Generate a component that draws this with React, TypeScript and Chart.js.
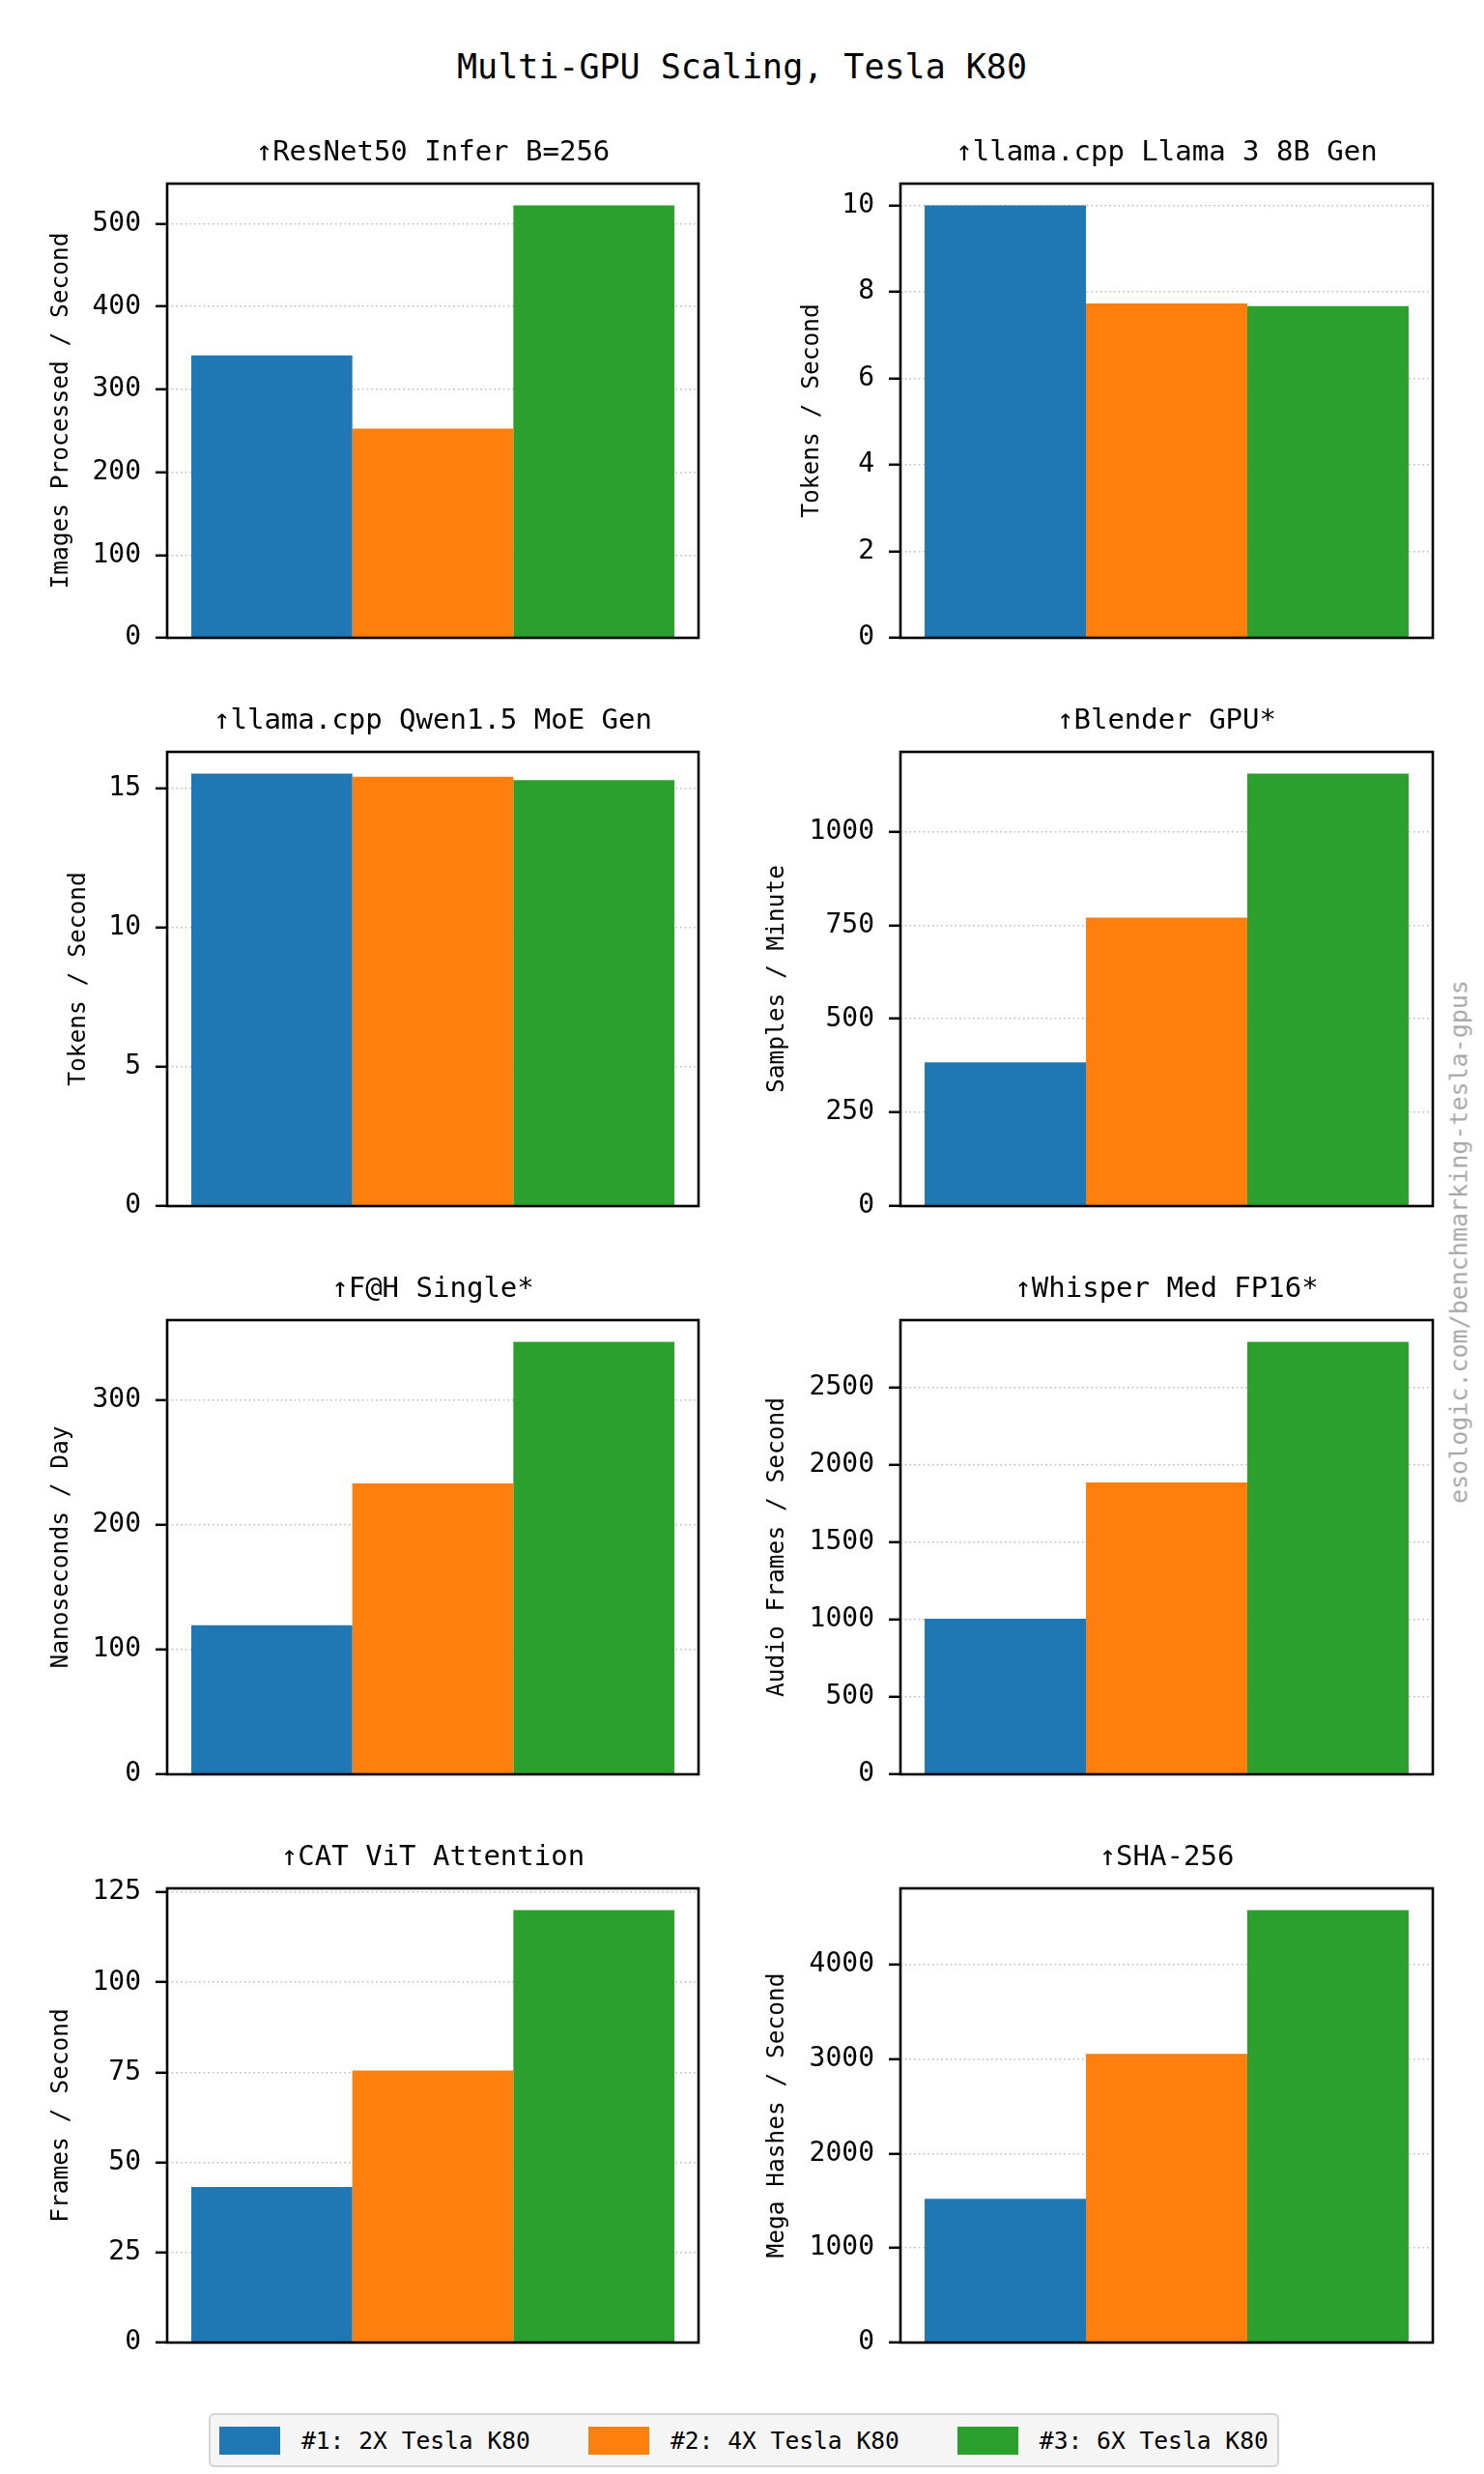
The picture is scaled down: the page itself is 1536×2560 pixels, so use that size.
import React, { useEffect, useRef } from 'react';
import { Chart, registerables } from 'chart.js';

Chart.register(...registerables);

// ---------- data ----------
const FIG_TITLE = 'Multi-GPU Scaling, Tesla K80';
const WATERMARK = 'esologic.com/benchmarking-tesla-gpus';

const benchmarks = [
  '↑ResNet50 Infer B=256',
  '↑llama.cpp Llama 3 8B Gen',
  '↑llama.cpp Qwen1.5 MoE Gen',
  '↑Blender GPU*',
  '↑F@H Single*',
  '↑Whisper Med FP16*',
  '↑CAT ViT Attention',
  '↑SHA-256',
];

const units = [
  'Images Processed / Second',
  'Tokens / Second',
  'Tokens / Second',
  'Samples / Minute',
  'Nanoseconds / Day',
  'Audio Frames / Second',
  'Frames / Second',
  'Mega Hashes / Second',
];

const seriesNames = ['#1: 2X Tesla K80', '#2: 4X Tesla K80', '#3: 6X Tesla K80'];
const seriesColors = ['#1f77b4', '#ff7f0e', '#2ca02c'];

const gpu2X = [341, 10.0, 15.53, 384, 119.4, 1006, 43.2, 1521];
const gpu4X = [252.6, 7.73, 15.41, 770, 233, 1887, 75.5, 3055];
const gpu6X = [522.4, 7.67, 15.29, 1155, 346.4, 2798, 120.1, 4576];

const tickSteps = [100, 2, 5, 250, 100, 500, 25, 1000];

// ---------- styling ----------
const FONT = '"DejaVu Sans Mono", monospace';
Chart.defaults.font.family = FONT;
Chart.defaults.color = '#000';

const framePlugin = {
  id: 'axesFrame',
  afterDraw(chart: any) {
    const { ctx, chartArea: a } = chart;
    ctx.save();
    ctx.strokeStyle = '#000';
    ctx.lineWidth = 2.6;
    ctx.strokeRect(a.left, a.top, a.right - a.left, a.bottom - a.top);
    ctx.restore();
  },
};

const CANVAS_W = 768;
const PAD_BOTTOM = 36;
const CANVAS_H = 90 + 470 + PAD_BOTTOM;

function Panel({ index }: { index: number }) {
  const ref = useRef<HTMLCanvasElement>(null);
  const col = index % 2;
  const row = Math.floor(index / 2);

  useEffect(() => {
    if (!ref.current) return;
    const axisLeft = col === 0 ? 173 : 164;
    const padRight = col === 0 ? 45 : 53;
    const all = [gpu2X, gpu4X, gpu6X];
    const values = all.map((s) => s[index]);
    const ymax = Math.max(...values) * 1.05;
    const step = tickSteps[index];
    const nTicks = Math.floor(ymax / step + 1e-9);
    const topTick = nTicks * step;
    const chars = String(topTick).length;
    const ylSize = 24.5;
    const labelCenter = axisLeft - (55 + 18 * chars);

    const chart = new Chart(ref.current, {
      type: 'bar',
      data: {
        labels: [''],
        datasets: seriesNames.map((name, s) => ({
          label: name,
          data: [all[s][index]],
          backgroundColor: seriesColors[s],
          borderWidth: 0,
          categoryPercentage: 3 / 3.3,
          barPercentage: 1,
        })),
      },
      options: {
        responsive: false,
        animation: false,
        devicePixelRatio: 1,
        layout: { padding: { left: 0, right: padRight, top: 0, bottom: PAD_BOTTOM } },
        plugins: {
          legend: { display: false },
          tooltip: { enabled: false },
          title: {
            display: true,
            text: benchmarks[index],
            fullSize: false,
            color: '#000',
            font: { family: FONT, size: 29, weight: 'normal' },
            padding: { top: 41.3, bottom: 13.9 },
          },
        },
        scales: {
          x: { display: false },
          y: {
            min: 0,
            max: ymax,
            z: 1,
            afterFit: (s: any) => {
              s.width = axisLeft;
            },
            afterBuildTicks: (s: any) => {
              const t: { value: number }[] = [];
              for (let i = 0; i <= nTicks; i++) t.push({ value: i * step });
              s.ticks = t;
            },
            ticks: {
              stepSize: step,
              includeBounds: false,
              color: '#000',
              padding: 15,
              font: { family: FONT, size: 28 },
              callback: (v: any) => String(v),
            },
            grid: {
              color: '#bdbdbd',
              lineWidth: 1.6,
              tickColor: '#000',
              tickWidth: 2.5,
              tickLength: 12,
            },
            border: { display: false, dash: [1.6, 3.1] },
            title: {
              display: true,
              text: units[index],
              color: '#000',
              font: { family: FONT, size: ylSize, weight: 'normal' },
              padding: { top: labelCenter - (ylSize * 1.2) / 2, bottom: 0 },
            },
          },
        },
      } as any,
      plugins: [framePlugin],
    });
    return () => chart.destroy();
  }, [index, col]);

  return (
    <canvas
      ref={ref}
      width={CANVAS_W}
      height={CANVAS_H}
      style={{
        position: 'absolute',
        left: col * 768,
        top: 100 + row * 588,
        width: CANVAS_W,
        height: CANVAS_H,
      }}
    />
  );
}

function Legend() {
  return (
    <div
      style={{
        position: 'absolute',
        left: 216,
        top: 2497,
        width: 1108,
        height: 56,
        boxSizing: 'border-box',
        background: '#f5f5f5',
        border: '2px solid #d4d4d4',
        borderRadius: 6,
        display: 'flex',
        alignItems: 'center',
        paddingLeft: 9,
        fontFamily: FONT,
        fontSize: 24.6,
        color: '#000',
        whiteSpace: 'nowrap',
      }}
    >
      {seriesNames.map((name, i) => (
        <div
          key={name}
          style={{ display: 'flex', alignItems: 'center', marginRight: i < seriesNames.length - 1 ? 60 : 0 }}
        >
          <div style={{ width: 63, height: 29, background: seriesColors[i], marginRight: 22 }} />
          <span>{name}</span>
        </div>
      ))}
    </div>
  );
}

export default function App() {
  return (
    <div
      style={{
        position: 'absolute',
        left: 0,
        top: 0,
        width: 1536,
        height: 2560,
        background: '#fff',
        overflow: 'hidden',
      }}
    >
      <div
        style={{
          position: 'absolute',
          left: 0,
          top: 52.4,
          width: 1536,
          textAlign: 'center',
          fontFamily: FONT,
          fontSize: 35,
          lineHeight: '35px',
          color: '#000',
          whiteSpace: 'nowrap',
        }}
      >
        {FIG_TITLE}
      </div>
      {benchmarks.map((_, i) => (
        <Panel key={i} index={i} />
      ))}
      <Legend />
      <div
        style={{
          position: 'absolute',
          left: 1510,
          top: 1285,
          transform: 'translate(-50%, -50%) rotate(-90deg)',
          fontFamily: FONT,
          fontSize: 25,
          lineHeight: '25px',
          color: '#a6a6a6',
          whiteSpace: 'nowrap',
        }}
      >
        {WATERMARK}
      </div>
    </div>
  );
}
